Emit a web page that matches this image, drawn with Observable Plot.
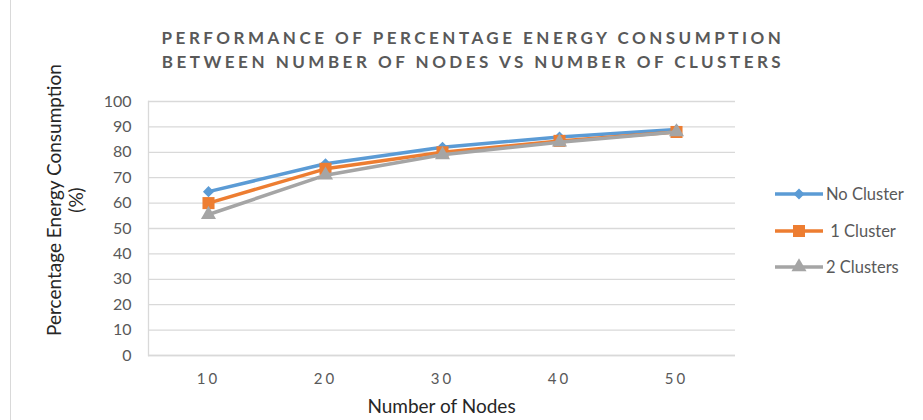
<!DOCTYPE html>
<html><head><meta charset="utf-8">
<script src="https://cdn.jsdelivr.net/npm/d3@7"></script>
<script src="https://cdn.jsdelivr.net/npm/@observablehq/plot@0.6"></script>
<style>
body{margin:0;background:#fff;}
#wrap{position:relative;width:923px;height:420px;overflow:hidden;font-family:Lato,"Open Sans",sans-serif;}
#border{position:absolute;left:10px;top:0;width:1px;height:420px;background:#d9d9d9;}
#title{position:absolute;left:0;width:946px;top:26px;text-align:center;font-weight:bold;font-size:17px;letter-spacing:3.5px;color:#595959;line-height:24px;}
#legend{position:absolute;left:775px;top:0;}
.item{position:absolute;left:0;white-space:nowrap;font-size:16.5px;color:#595959;display:flex;align-items:center;height:20px;}
.item svg{display:block;margin-right:3px;}
#chart{position:absolute;left:0;top:0;}
#chart svg{font-family:Lato,"Open Sans",sans-serif;}
#chart [aria-label="x-axis tick label"] text{letter-spacing:3px;}
#xlabel{position:absolute;left:148px;width:587px;top:394px;text-align:center;font-size:19px;color:#262626;line-height:24px;}
#ylabel{position:absolute;left:-135px;top:178px;width:400px;text-align:center;font-size:19px;color:#262626;line-height:22px;transform:rotate(-90deg);}
</style></head>
<body>
<div id="wrap">
  <div id="border"></div>
  <div id="chart"></div>
  <div id="title"></div>
  <div id="legend"></div>
  <div id="xlabel"></div>
  <div id="ylabel"></div>
</div>
<script>
const titleLines = ["PERFORMANCE OF PERCENTAGE ENERGY CONSUMPTION", "BETWEEN NUMBER OF NODES VS NUMBER OF CLUSTERS"];
const nodes = [10, 20, 30, 40, 50];
const seriesNames = ["No Cluster", "1 Cluster", "2 Clusters"];
const noCluster = [64.5, 75.5, 82, 86, 89];
const oneCluster = [60, 73.5, 80, 84.5, 88];
const twoClusters = [55.5, 71, 79, 84, 88];
const yTicks = [0, 10, 20, 30, 40, 50, 60, 70, 80, 90, 100];
const xLabel = "Number of Nodes";
const yLabelLines = ["Percentage Energy Consumption", "(%)"];

const colors = ["#5B9BD5", "#ED7D31", "#A5A5A5"];
const symbols = ["diamond2", "square", "triangle"];
const radii = [5, 6.8, 5.6];
const seriesValues = [noCluster, oneCluster, twoClusters];

const rows = seriesNames.map((s, i) => nodes.map((n, j) => ({series: s, nodes: n, value: seriesValues[i][j]})));

document.getElementById("title").innerHTML = titleLines.map(t => `<div>${t}</div>`).join("");
document.getElementById("xlabel").textContent = xLabel;
document.getElementById("ylabel").innerHTML = yLabelLines.map(t => `<div>${t}</div>`).join("");

const marks = [
  Plot.gridY(yTicks, {stroke: "#d9d9d9", strokeOpacity: 1, strokeWidth: 1.3}),
  Plot.ruleY([0], {stroke: "#d9d9d9", strokeWidth: 1.3}),
  Plot.frame({anchor: "left", stroke: "#d9d9d9", strokeWidth: 1.3}),
  Plot.axisY(yTicks, {tickSize: 0, tickPadding: 17, fontSize: 16, color: "#595959", label: null}),
  Plot.axisX(nodes, {tickSize: 0, tickPadding: 18, fontSize: 15, color: "#595959", label: null})
];
rows.forEach((r, i) => {
  marks.push(Plot.line(r, {x: "nodes", y: "value", stroke: colors[i], strokeWidth: 3.5}));
  marks.push(Plot.dot(r, {x: "nodes", y: "value", symbol: () => symbols[i], r: radii[i], fill: colors[i], stroke: "none"}));
});

const chart = Plot.plot({
  width: 923, height: 420,
  marginLeft: 148, marginRight: 188, marginTop: 101, marginBottom: 65,
  x: {type: "point", domain: nodes, padding: 0.5},
  y: {domain: [0, 100]},
  symbol: {type: "identity"},
  style: {fontFamily: "Lato, 'Open Sans', sans-serif", background: "transparent", overflow: "visible"},
  marks
});
document.getElementById("chart").appendChild(chart);

// legend
const legendY = [194, 231, 267];
const legend = document.getElementById("legend");
seriesNames.forEach((s, i) => {
  const d = document.createElement("div");
  d.className = "item";
  d.style.top = (legendY[i] - 10) + "px";
  const sym = d3.symbol(d3["symbol" + ({diamond2: "Diamond2", square: "Square", triangle: "Triangle"})[symbols[i]]], Math.PI * radii[i] * radii[i])();
  d.innerHTML = `<svg width="48" height="20"><line x1="0" x2="48" y1="10" y2="10" stroke="${colors[i]}" stroke-width="3.5"/><path d="${sym}" transform="translate(24,10)" fill="${colors[i]}"/></svg><span>${i === 1 ? "&nbsp;" : ""}${s}</span>`;
  legend.appendChild(d);
});
</script>
</body></html>
